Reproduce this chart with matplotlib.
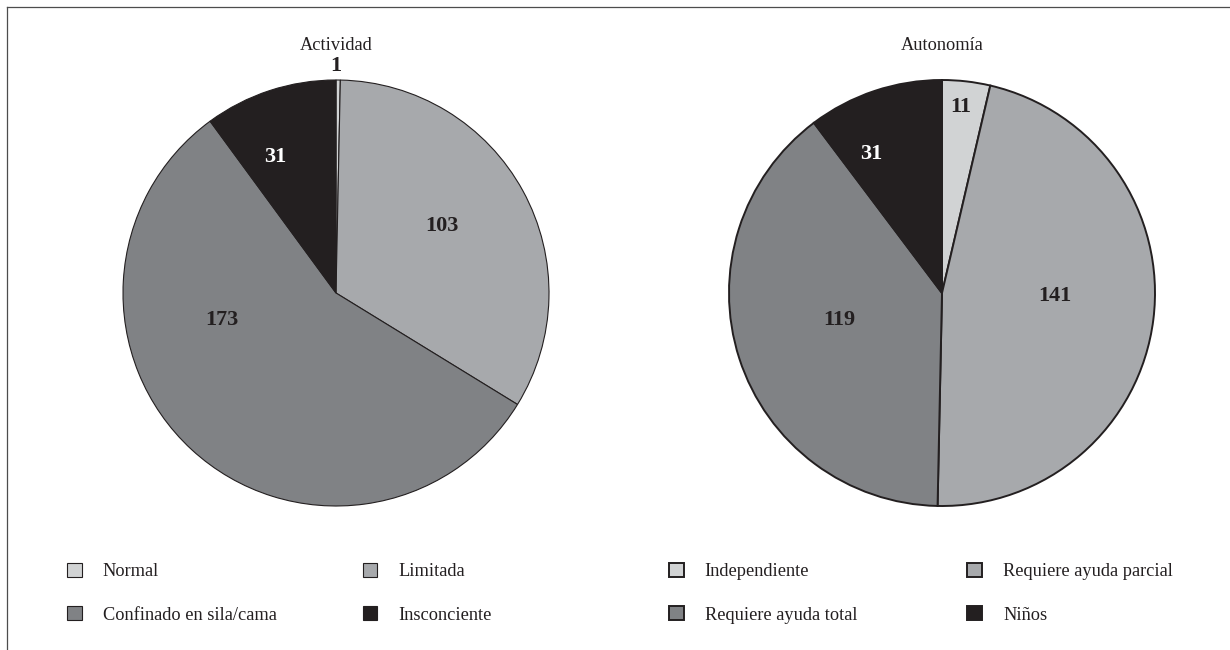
import matplotlib
matplotlib.use("Agg")
import matplotlib.pyplot as plt
import numpy as np
from matplotlib.lines import Line2D

# --- data -------------------------------------------------------------
actividad_title = "Actividad"
actividad_labels = ["Normal", "Limitada", "Confinado en sila/cama", "Insconciente"]
actividad_values = [1, 103, 173, 31]

autonomia_title = "Autonomía"
autonomia_labels = ["Independiente", "Requiere ayuda parcial",
                    "Requiere ayuda total", "Niños"]
autonomia_values = [11, 141, 119, 31]

slice_colors = ["#d1d3d4", "#a7a9ac", "#808285", "#231f20"]
value_colors = ["#231f20", "#231f20", "#231f20", "#ffffff"]

# --- layout -----------------------------------------------------------
W, H, DPI = 1230, 650, 100
R = 213  # pie radius in pixels
TEXT_SIZE = 13.2
VALUE_SIZE = 16

plt.rcParams["font.family"] = ["Liberation Serif", "DejaVu Serif"]

fig = plt.figure(figsize=(W / DPI, H / DPI), dpi=DPI)
fig.patch.set_facecolor("white")


def px_axes(cx, cy, r):
    """Square axes centred on pixel (cx, cy), measured from the top-left."""
    return fig.add_axes([(cx - r) / W, (H - cy - r) / H, 2 * r / W, 2 * r / H])


def draw_pie(cx, cy, title, labels, values, edge_lw, label_pos,
             legend_xy, colspacing):
    ax = px_axes(cx, cy, R)
    wedges, _ = ax.pie(values, colors=slice_colors, startangle=90,
                       counterclock=False, radius=1.0,
                       wedgeprops=dict(edgecolor="#231f20", linewidth=edge_lw))
    ax.set_xlim(-1, 1)
    ax.set_ylim(-1, 1)
    ax.set_aspect("auto")
    ax.axis("off")

    # value labels, placed along each wedge's bisector
    for w, v, tc, (dist, dang) in zip(wedges, values, value_colors, label_pos):
        mid = np.deg2rad((w.theta1 + w.theta2) / 2 + dang)
        color = tc if dist < 1 else "#231f20"
        ax.text(dist * np.cos(mid), dist * np.sin(mid), str(v),
                ha="center", va="center", fontsize=VALUE_SIZE,
                fontweight="bold", color=color, clip_on=False)

    fig.text(cx / W, 1 - 45 / H, title, ha="center", va="center",
             fontsize=TEXT_SIZE, color="#231f20")

    # legend laid out row by row: entries 0,1 on the first row, 2,3 below
    order = [0, 2, 1, 3]
    leg = ax.legend([wedges[i] for i in order], [labels[i] for i in order],
                    ncol=2, loc="upper left",
                    bbox_to_anchor=(legend_xy[0] / W, 1 - legend_xy[1] / H),
                    bbox_transform=fig.transFigure, frameon=False,
                    fontsize=TEXT_SIZE, handlelength=0.8, handleheight=0.8,
                    handletextpad=1.15, labelspacing=1.42,
                    columnspacing=colspacing, borderpad=0, borderaxespad=0)
    for t in leg.get_texts():
        t.set_color("#231f20")
    return ax


draw_pie(336, 293, actividad_title, actividad_labels, actividad_values, 0.8,
         [(1.065, 0.6), (0.59, 3.7), (0.55, -34.0), (0.70, 5.9)],
         (67, 563), 4.7)
draw_pie(942, 293, autonomia_title, autonomia_labels, autonomia_values, 1.4,
         [(0.88, 0.8), (0.53, 5.6), (0.50, -3.1), (0.73, 8.4)],
         (669, 563), 6.0)

# frame lines along the top and left edges
frame_kw = dict(color="#4d4d4d", linewidth=0.9, transform=fig.transFigure)
fig.add_artist(Line2D([7 / W, 1], [1 - 7 / H, 1 - 7 / H], **frame_kw))
fig.add_artist(Line2D([7 / W, 7 / W], [0, 1 - 7 / H], **frame_kw))

fig.savefig("out.png", dpi=DPI, facecolor="white")
